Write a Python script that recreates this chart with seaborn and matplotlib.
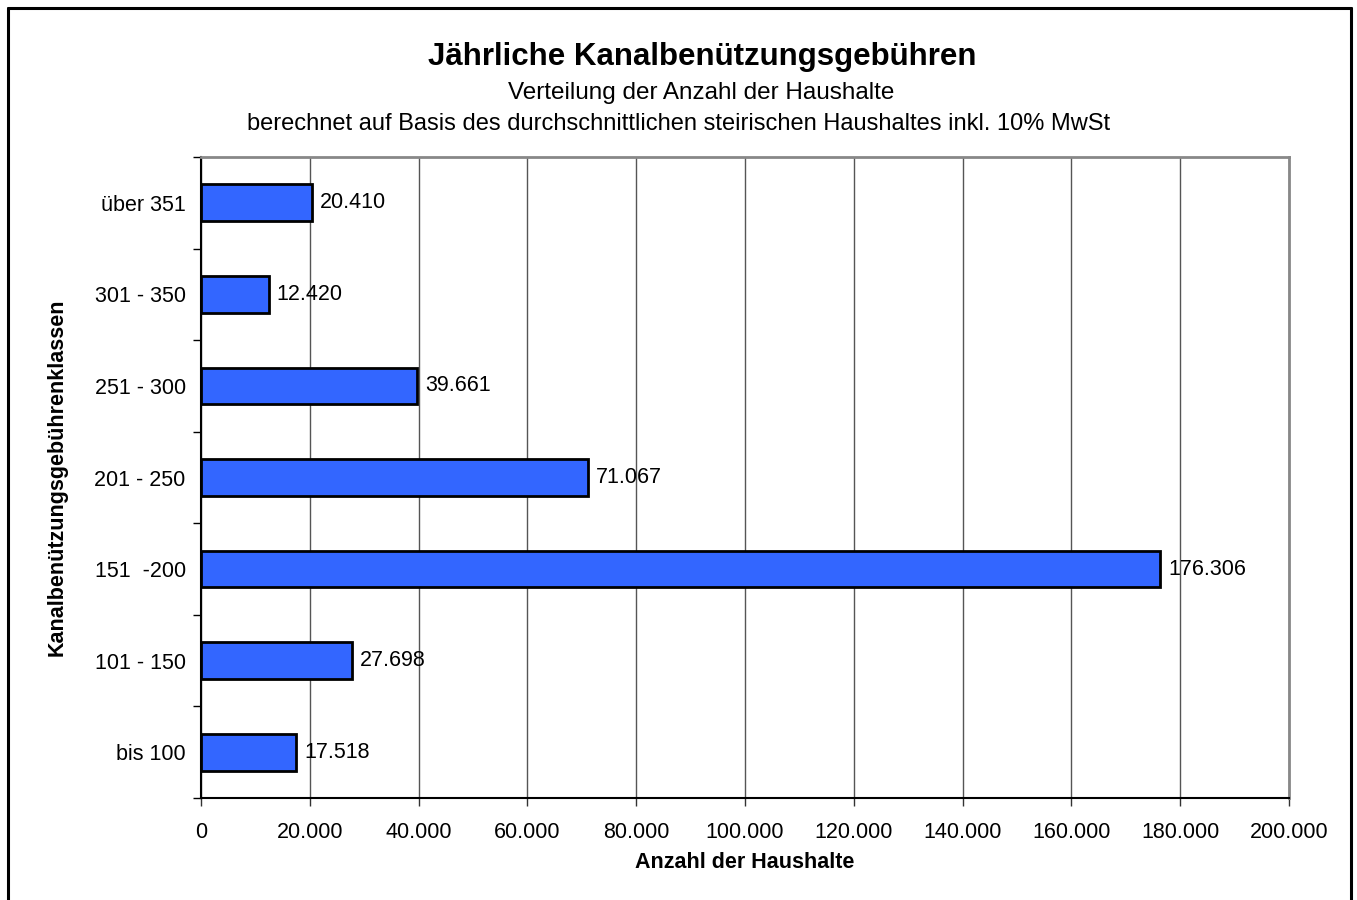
import matplotlib
matplotlib.use("Agg")
import matplotlib.pyplot as plt
import seaborn as sns
import pandas as pd
from matplotlib.ticker import FuncFormatter
from matplotlib.lines import Line2D

categories = ["über 351", "301 - 350", "251 - 300", "201 - 250", "151  -200", "101 - 150", "bis 100"]
values = [20410, 12420, 39661, 71067, 176306, 27698, 17518]
value_labels = ["20.410", "12.420", "39.661", "71.067", "176.306", "27.698", "17.518"]
x_ticks = [0, 20000, 40000, 60000, 80000, 100000, 120000, 140000, 160000, 180000, 200000]

sns.set_style("white")
plt.rcParams['font.family'] = ['Liberation Sans', 'DejaVu Sans']
plt.rcParams['text.color'] = 'black'
plt.rcParams['xtick.color'] = 'black'
plt.rcParams['ytick.color'] = 'black'
plt.rcParams['axes.labelcolor'] = 'black'

df = pd.DataFrame({"cat": categories, "val": values})

fig = plt.figure(figsize=(13.57, 9.0), dpi=100)
ax = fig.add_axes([201/1357, 1 - 798/900, (1289 - 201)/1357, (798 - 157)/900])

sns.barplot(data=df, x="val", y="cat", order=categories, color="#3366FF",
            saturation=1, width=0.4, edgecolor="black", linewidth=2, ax=ax, zorder=3)

ax.set_xlim(0, 200000)
ax.set_ylim(len(categories) - 0.5, -0.5)
ax.set_xticks(x_ticks)
ax.xaxis.set_major_formatter(FuncFormatter(lambda v, p: "0" if v == 0 else f"{int(v):,}".replace(",", ".")))
ax.grid(axis="x", color="#555555", linewidth=1, zorder=0)
ax.set_axisbelow(True)

# y ticks at category boundaries
ax.set_yticks([i - 0.5 for i in range(len(categories) + 1)], minor=False)
ax.set_yticklabels([])
ax.set_yticks(range(len(categories)), minor=True)
ax.set_yticklabels(categories, minor=True)
ax.tick_params(axis="y", which="major", direction="out", length=6, width=1, color="black", left=True)
ax.tick_params(axis="y", which="minor", length=0, pad=11, labelsize=15.5)
ax.tick_params(axis="x", which="major", direction="out", length=6, width=1, color="#333333",
               bottom=True, labelsize=15.5, pad=11)

for s in ["left", "bottom"]:
    ax.spines[s].set_color("black")
    ax.spines[s].set_linewidth(1.5)
for s in ["top", "right"]:
    ax.spines[s].set_color("#888888")
    ax.spines[s].set_linewidth(2)

for i, (v, lab) in enumerate(zip(values, value_labels)):
    ax.text(v + 1500, i, lab, va="center", ha="left", fontsize=15.5, zorder=4)

ax.set_xlabel("Anzahl der Haushalte", fontsize=15.5, fontweight="bold")
ax.set_ylabel("Kanalbenützungsgebührenklassen", fontsize=15.5, fontweight="bold")
ax.xaxis.set_label_coords(0.5, -(862 - 798) / (798 - 157), transform=ax.transAxes)
ax.xaxis.label.set_va("center")
ax.yaxis.set_label_coords(-(201 - 57) / (1289 - 201), 0.5, transform=ax.transAxes)
ax.yaxis.label.set_va("center")

fig.text(702/1357, 1 - 57/900, "Jährliche Kanalbenützungsgebühren", ha="center", va="center",
         fontsize=22.5, fontweight="bold")
fig.text(701/1357, 1 - 93/900, "Verteilung der Anzahl der Haushalte", ha="center", va="center", fontsize=17.5)
fig.text(0.5, 1 - 124/900, "berechnet auf Basis des durchschnittlichen steirischen Haushaltes inkl. 10% MwSt",
         ha="center", va="center", fontsize=17)

# figure border (no bottom edge visible)
bx0, bx1, by0 = 7.5/1357, 1350.5/1357, 1 - 7.5/900
fig.add_artist(Line2D([bx0, bx1], [by0, by0], color="black", linewidth=2.2, transform=fig.transFigure))
fig.add_artist(Line2D([bx0, bx0], [0, by0], color="black", linewidth=2.2, transform=fig.transFigure))
fig.add_artist(Line2D([bx1, bx1], [0, by0], color="black", linewidth=2.2, transform=fig.transFigure))

fig.savefig("out.png", dpi=100)
